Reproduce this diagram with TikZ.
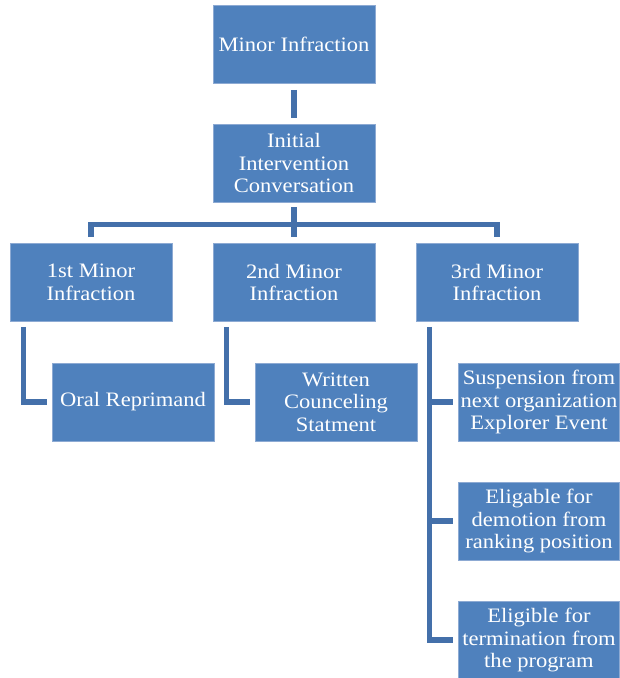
\documentclass[tikz,border=0pt]{standalone}
\usepackage{fontspec}
\setmainfont[FakeStretch=1.1]{Liberation Serif}
\definecolor{boxfill}{HTML}{4F81BD}
\definecolor{boxedge}{HTML}{8DAAD3}
\definecolor{connc}{HTML}{4470AA}
\begin{document}
\begin{tikzpicture}[x=1pt,y=-1pt,
  box/.style={fill=boxfill,draw=boxedge,line width=0.6pt,minimum width=162pt,minimum height=78pt,
    inner sep=1pt,align=center,text=white,font=\fontsize{20.5}{22.5}\selectfont},
  conn/.style={draw=connc,line width=5.5pt}]
\useasboundingbox (0,0) rectangle (620,678);
\node[box] (mi) at (294,44.5) {Minor Infraction};
\node[box] (init) at (294,163) {Initial\\Intervention\\Conversation};
\node[box] (m1) at (91,282.5) {1st Minor\\Infraction};
\node[box] (m2) at (294,282.5) {2nd Minor\\Infraction};
\node[box] (m3) at (497,282.5) {3rd Minor\\Infraction};
\node[box] (oral) at (133,402) {Oral Reprimand};
\node[box] (writ) at (336,402) {Written\\Counceling\\Statment};
\node[box,minimum width=161pt] (s1) at (539,402) {Suspension from\\next organization\\Explorer Event};
\node[box,minimum width=161pt] (s2) at (539,521) {Eligable for\\demotion from\\ranking position};
\node[box,minimum width=161pt,minimum height=77pt] (s3) at (539,640) {Eligible for\\termination from\\the program};
% connectors
\draw[conn] ([yshift=-6pt]mi.south) -- ([yshift=6pt]init.north);
\coordinate (bar) at ([yshift=-22pt]init.south);
\draw[conn] ([yshift=-5pt]init.south) -- (bar);
\draw[conn] ([yshift=6pt]m1.north) |- (bar) -| ([yshift=6pt]m3.north);
\draw[conn] (bar) -- ([yshift=6pt]m2.north);
\draw[conn] ([xshift=14pt,yshift=-5pt]m1.south west) |- ([xshift=-5pt]oral.west);
\draw[conn] ([xshift=14pt,yshift=-5pt]m2.south west) |- ([xshift=-5pt]writ.west);
\draw[conn] ([xshift=14pt,yshift=-5pt]m3.south west) |- ([xshift=-5pt]s3.west);
\draw[conn] ([xshift=14pt]m3.west |- s1.west) -- ([xshift=-5pt]s1.west);
\draw[conn] ([xshift=14pt]m3.west |- s2.west) -- ([xshift=-5pt]s2.west);
\end{tikzpicture}
\end{document}
